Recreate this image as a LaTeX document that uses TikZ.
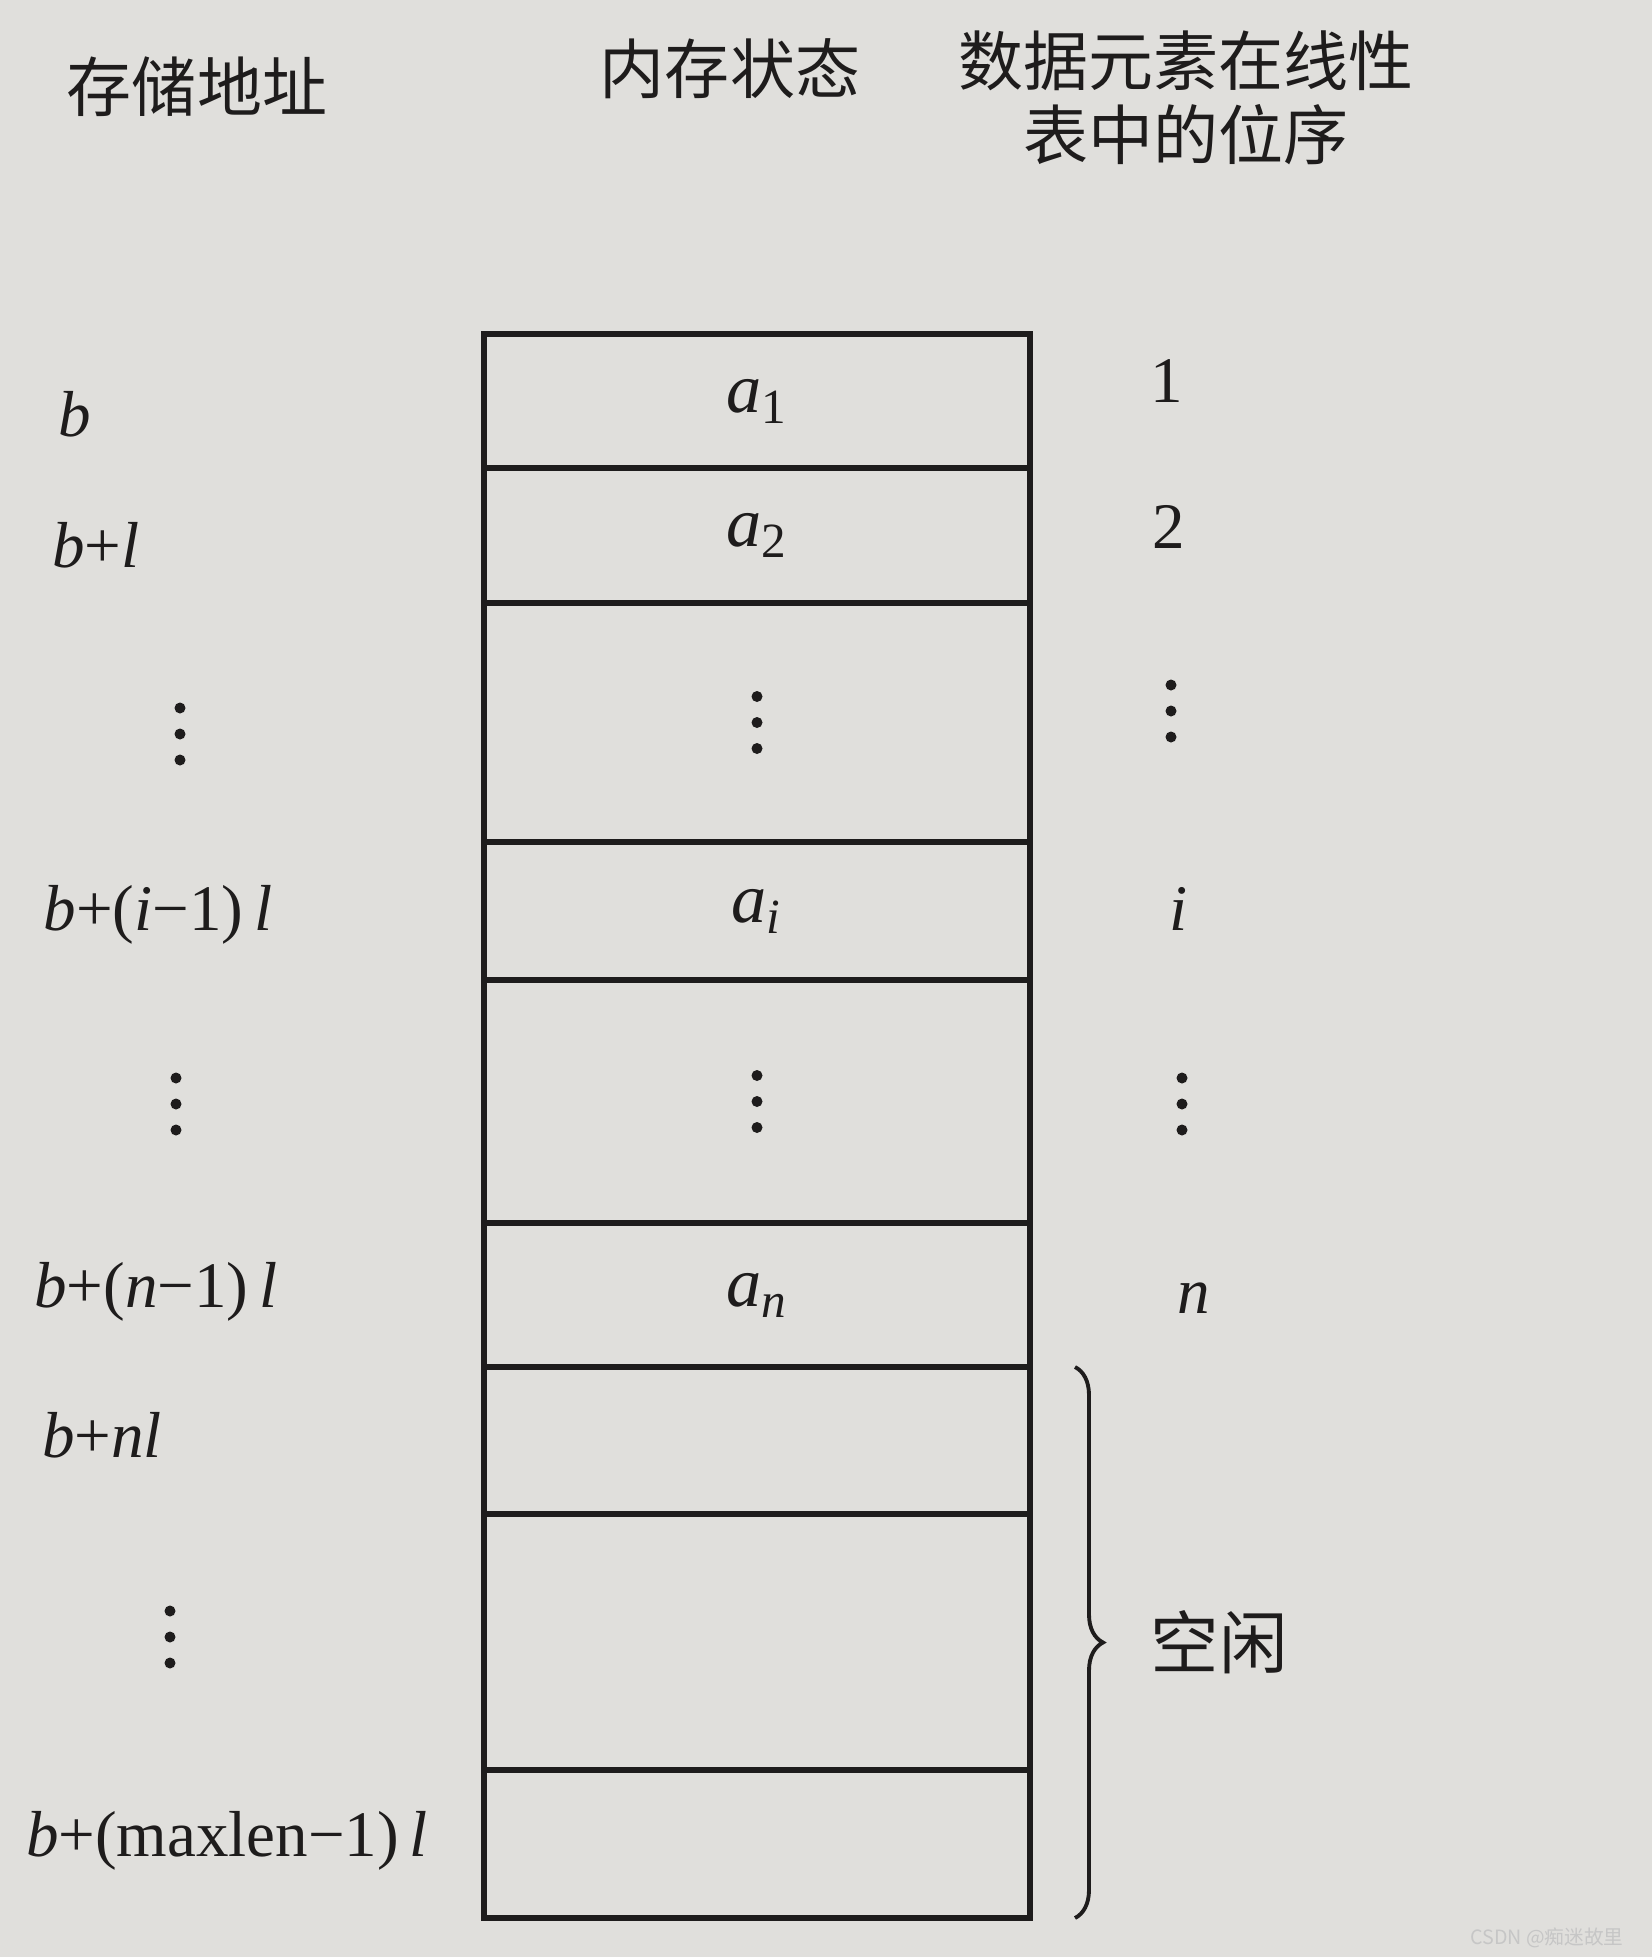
\documentclass[tikz,border=0pt]{standalone}
\usepackage{fontspec}
\setmainfont{Liberation Serif}
\newfontfamily\cjk{Noto Sans CJK SC}
\usepackage{xcolor}
\usetikzlibrary{positioning, decorations.pathreplacing}

\definecolor{paper}{RGB}{224,223,220}
\definecolor{ink}{RGB}{30,28,28}

\tikzset{
    cell/.style={draw=ink, line width=1.5pt, minimum width=5.46cm, inner sep=0pt, outer sep=0pt,
        font=\fontsize{20}{22}\selectfont, text=ink},
    head/.style={font=\cjk\fontsize{18.5}{22}\selectfont, text=ink, align=center},
    addr/.style={font=\fontsize{18.5}{22}\selectfont, text=ink},
}

\begin{document}
\begin{tikzpicture}
    % Page
    \fill[paper] (0,0) rectangle (16.52,-19.57);
    \useasboundingbox (0,0) rectangle (16.52,-19.57);

    % Headings
    \node[head] (haddr) at (1.97,-0.87) {存储地址};
    \node[head] (hmem) at (7.30,-0.69) {内存状态};
    \node[head, align=center] (hpos) at (11.86,-0.98) {数据元素在线性\\[-1pt]表中的位序};

    % Cells
    \node[cell, minimum height=1.34cm, anchor=north west] (c1) at (4.84,-3.34) {\textit{a}\textsubscript{1}};
    \node[cell, minimum height=1.35cm, below=0pt of c1] (c2) {\textit{a}\textsubscript{2}};
    \node[cell, minimum height=2.39cm, below=0pt of c2] (c3) {};
    \node[cell, minimum height=1.38cm, below=0pt of c3] (c4) {\textit{a}\textsubscript{\textit{i}}};
    \node[cell, minimum height=2.43cm, below=0pt of c4] (c5) {};
    \node[cell, minimum height=1.44cm, below=0pt of c5] (c6) {\textit{a}\textsubscript{\textit{n}}};
    \node[cell, minimum height=1.47cm, below=0pt of c6] (c7) {};
    \node[cell, minimum height=2.56cm, below=0pt of c7] (c8) {};
    \node[cell, minimum height=1.48cm, below=0pt of c8] (c9) {};

    % Addresses
    \node[addr] (ab) at (0.75,-4.14) {\textit{b}};
    \node[addr] (ab1) at (0.96,-5.45) {\textit{b}+\textit{l}};
    \node[addr] (abi) at (1.58,-9.15) {\textit{b}+(\textit{i}−1)\,\textit{l}};
    \node[addr] (abn) at (1.56,-12.92) {\textit{b}+(\textit{n}−1)\,\textit{l}};
    \node[addr] (abnl) at (1.02,-14.35) {\textit{b}+\textit{nl}};
    \node[addr] (abmax) at (2.27,-18.41) {\textit{b}+(maxlen−1)\,\textit{l}};

    % Positions
    \node[addr] (p1) at (11.67,-3.81) {1};
    \node[addr] (p2) at (11.69,-5.27) {2};
    \node[addr] (pi) at (11.79,-9.09) {\textit{i}};
    \node[addr] (pn) at (11.94,-12.98) {\textit{n}};

    % Dots
    \foreach \c in {c3,c5}
        \foreach \k in {-1,0,1}
            \fill[ink] ([yshift=\k*0.26cm]\c.center) circle (0.055);
    \foreach \x/\y in {1.80/7.34, 1.76/11.04, 1.70/16.37, 11.71/7.11, 11.82/11.04}
        \foreach \k in {-1,0,1}
            \fill[ink] (\x,-\y+\k*0.26) circle (0.055);

    % Free part
    \coordinate (bt) at ([xshift=0.45cm]c7.north east);
    \coordinate (bb) at ([xshift=0.45cm]c9.south east);
    \draw[ink, line width=1.1pt, decorate, decoration={brace, amplitude=0.28cm}]
        (bt) -- node[head, right=0.62cm, font=\cjk\fontsize{19.5}{22}\selectfont] (idle) {空闲} (bb);

    % Watermark
    \node[font=\cjk\fontsize{5.6}{6}\selectfont, text=white!55!gray, anchor=east] (mark) at (16.36,-19.38) {CSDN @痴迷故里};
\end{tikzpicture}
\end{document}
